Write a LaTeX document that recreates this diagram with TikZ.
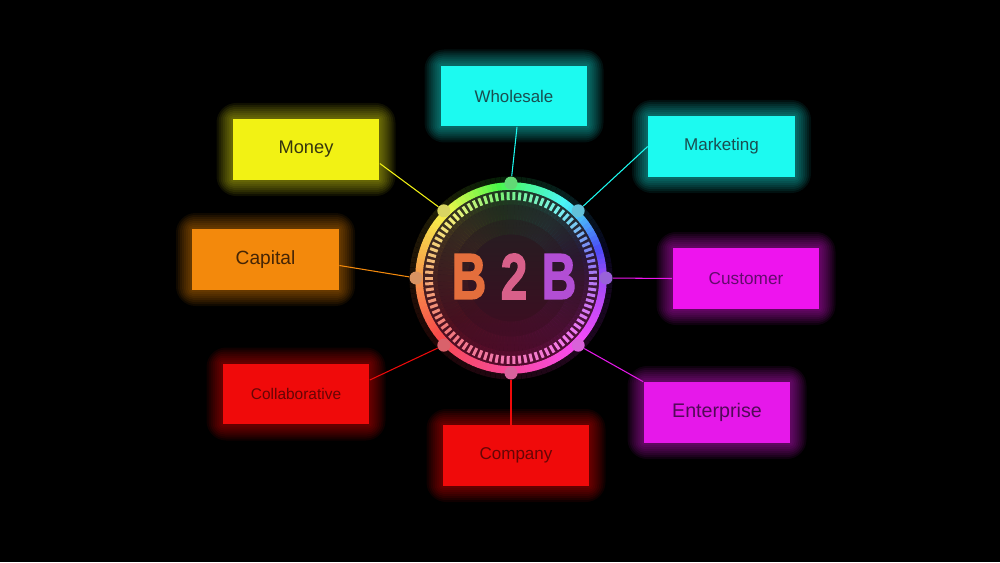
\documentclass[tikz,border=0pt]{standalone}
\usepackage{fontspec}
\setmainfont{Liberation Sans}
\newfontfamily\bbfont[BoldFont={Liberation Sans Bold}, BoldFeatures={FakeBold=2.2}]{Liberation Sans}
\usetikzlibrary{calc}
\definecolor{cCyan}{HTML}{1CFAF0}
\definecolor{tCyan}{HTML}{1A4E50}
\definecolor{cYellow}{HTML}{F2F214}
\definecolor{tYellow}{HTML}{36360E}
\definecolor{cOrange}{HTML}{F3890C}
\definecolor{tOrange}{HTML}{452505}
\definecolor{cMagenta}{HTML}{EE14EE}
\definecolor{tMagenta}{HTML}{640A6E}
\definecolor{cRed}{HTML}{F00A0A}
\definecolor{tRed}{HTML}{660505}
\definecolor{cEnt}{HTML}{E618EA}
\definecolor{tEnt}{HTML}{520A58}
\definecolor{bOne}{HTML}{E46E3C}
\definecolor{bTwo}{HTML}{D8608A}
\definecolor{bThree}{HTML}{B24ED4}
\definecolor{inTop}{HTML}{1E2220}
\definecolor{inBot}{HTML}{440822}
% hue (0..360) of the ring gradient at polar angle #1
\newcommand\ringhue[1]{%
  \pgfmathsetmacro\rph{mod(540-#1,360)}%
  \pgfmathtruncatemacro\rkk{floor(\rph/45)}%
  \pgfmathsetmacro\rtq{(\rph-45*\rkk)/45}%
  \pgfmathsetmacro\rha{{25,58,130,192,268,300,330,355,385}[\rkk]}%
  \pgfmathsetmacro\rhb{{25,58,130,192,268,300,330,355,385}[\rkk+1]}%
  \pgfmathsetmacro\rhu{mod(\rha+(\rhb-\rha)*\rtq,360)}%
}
% define colour #1 from hue \rhu, saturation #2, brightness #3 (as rgb)
\newcommand\huecolor[3]{%
  \convertcolorspec{Hsb}{\rhu,#2,#3}{rgb}\myspec
  \definecolor{#1}{rgb}{\myspec}%
}
\newcommand\mybox[6]{%
  \foreach \k in {1,...,8}{%
    \pgfmathsetmacro\rc{1.4*\k}%
    \fill[#4, opacity=0.065, rounded corners=\rc pt] (#2-73.5-2*\k, #3-30.5-2*\k) rectangle (#2+73.5+2*\k, #3+30.5+2*\k);}
  \node[boxst, fill=#4, text=#5] (#1) at (#2,#3) {#6};}
\begin{document}
\begin{tikzpicture}[x=0.02cm,y=0.02cm,
  boxst/.style={rectangle, minimum width=2.94cm, minimum height=1.22cm, inner sep=0pt},
  knob/.style={circle, minimum size=0.26cm, inner sep=0pt},
  link/.style={line width=0.6pt},
  b2b/.style={inner sep=0pt, font=\fontsize{37}{40}\selectfont\bbfont\bfseries}]
\fill[black] (0,0) rectangle (1000,562);
\useasboundingbox (0,0) rectangle (1000,562);

% ---- central ring ----
\begin{scope}[shift={(511,284)}]
  \foreach \a in {0,3,...,357}{
    \ringhue{\a}
    \huecolor{segc}{0.8}{1}
    \draw[segc, line width=0.3cm, opacity=0.12] (\a:94) arc[start angle=\a, end angle=\a+3, radius=94];
  }
  \shade[top color=inTop, bottom color=inBot] (0,0) circle (89);
  \foreach \a in {0,3,...,357}{
    \ringhue{\a}
    \huecolor{segc}{0.85}{0.7}
    \draw[segc, line width=0.3cm, opacity=0.16] (\a:81) arc[start angle=\a, end angle=\a+3, radius=81];
    \draw[segc, line width=0.3cm, opacity=0.10] (\a:66) arc[start angle=\a, end angle=\a+3, radius=66];
    \draw[segc, line width=0.3cm, opacity=0.06] (\a:51) arc[start angle=\a, end angle=\a+3, radius=51];
  }
  \foreach \a in {0,3,...,357}{
    \ringhue{\a}
    \huecolor{segc}{0.7}{0.97}
    \draw[segc, line width=0.15cm] (\a:92) arc[start angle=\a, end angle=\a+3.4, radius=92];
  }
  \foreach \a in {0,4,...,356}{
    \ringhue{\a}
    \huecolor{tickc}{0.5}{0.95}
    \draw[tickc, line width=0.06cm] (\a:78) -- (\a:86);
  }
  \foreach \a/\nm in {0/k0,45/k45,90/k90,135/k135,180/k180,225/k225,270/k270,315/k315}{
    \ringhue{\a}
    \huecolor{kc}{0.55}{0.85}
    \node[knob, fill=kc] (\nm) at (\a:95) {};
  }
\end{scope}
\node[b2b, text=bOne]   (bA) at (469,285.5) {\scalebox{0.74}[1]{B}};
\node[b2b, text=bTwo]   (bB) at (514,285.5) {\scalebox{0.74}[1]{2}};
\node[b2b, text=bThree] (bC) at (559,285.5) {\scalebox{0.74}[1]{B}};

% ---- boxes ----
\mybox{wholesale}{514}{466}{cCyan}{tCyan}{\fontsize{9.6}{11}\selectfont Wholesale}
\mybox{money}{306}{412.5}{cYellow}{tYellow}{\fontsize{10.4}{12}\selectfont Money}
\mybox{marketing}{721.5}{415.5}{cCyan}{tCyan}{\fontsize{9.7}{11}\selectfont Marketing}
\mybox{capital}{265.5}{302.5}{cOrange}{tOrange}{\fontsize{10.9}{12}\selectfont Capital}
\mybox{customer}{746}{283.5}{cMagenta}{tMagenta}{\fontsize{9.8}{11}\selectfont Customer}
\mybox{collab}{296}{168}{cRed}{tRed}{\fontsize{8.8}{10}\selectfont Collaborative}
\mybox{company}{516}{106.5}{cRed}{tRed}{\fontsize{9.7}{11}\selectfont Company}
\mybox{enterprise}{717}{149.5}{cEnt}{tEnt}{\fontsize{11.2}{13}\selectfont Enterprise}

% ---- connectors ----
\draw[link, cCyan]    (k90)  -- ($(wholesale.south)+(3,0)$);
\draw[link, cYellow]  (k135) -- ($(money.east)+(0,-14)$);
\draw[link, cCyan]    (k45)  -- (marketing.west);
\draw[link, cOrange]  (k180) -- ($(capital.east)+(0,-6)$);
\draw[link, cMagenta] (k0)   -- (customer.west);
\draw[link, cRed]     (k225) -- ($(collab.east)+(0,14)$);
\draw[link, cRed]     (k270) -- ($(company.north)+(-5,0)$);
\draw[link, cEnt]     (k315) -- (enterprise.north west);
\end{tikzpicture}
\end{document}
